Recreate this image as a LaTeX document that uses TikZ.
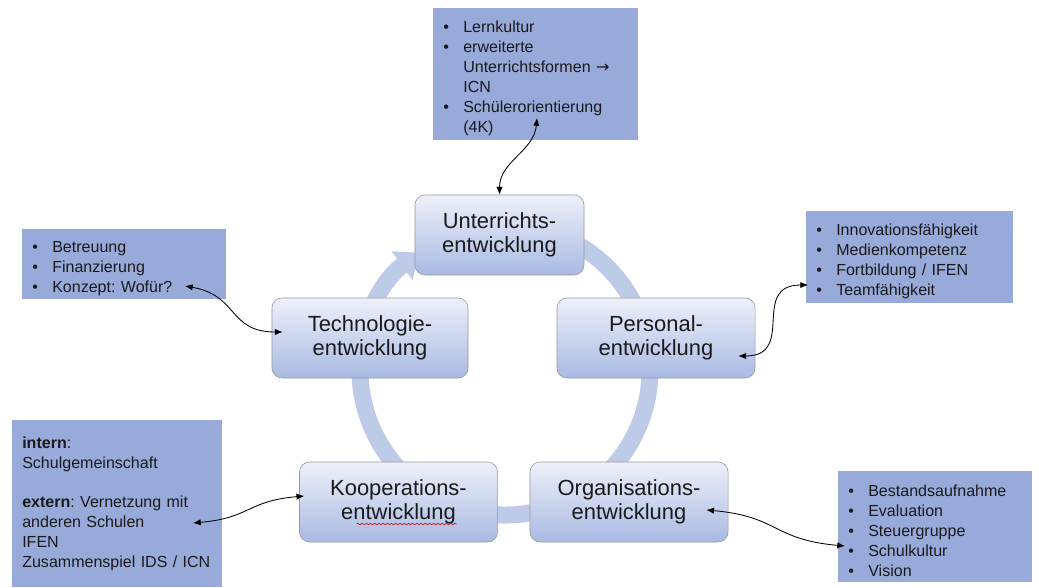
\documentclass[tikz,border=0pt]{standalone}
\usepackage{fontspec}
\setmainfont{Liberation Sans}
\newfontfamily\symfont{DejaVu Sans}
\usepackage{tikz}
\usetikzlibrary{arrows.meta}
\usetikzlibrary{calc}
\usetikzlibrary{decorations.pathmorphing}
\tikzset{>={Latex[length=5.5pt,width=4.5pt]}}
\usepackage{xcolor}
\definecolor{infofill}{RGB}{151,170,217}
\definecolor{ringcol}{RGB}{189,203,232}
\definecolor{boxtop}{RGB}{238,240,250}
\definecolor{boxbot}{RGB}{168,186,226}
\definecolor{boxline}{RGB}{150,152,160}
\definecolor{txt}{RGB}{26,26,26}
\tikzstyle{stage}=[rectangle,rounded corners=0.25cm,draw=boxline,top color=boxtop,bottom color=boxbot,
  minimum width=4.95cm,minimum height=2cm,align=center,text=txt,font=\fontsize{15.6}{17.1}\selectfont]
\tikzstyle{info}=[rectangle,fill=infofill,anchor=north west,inner xsep=0.25cm,inner ysep=0pt,
  align=left,text=txt,font=\fontsize{11.4}{14.2}\selectfont\frenchspacing]
\tikzstyle{link}=[<->,line width=0.6pt]
\newcommand{\bul}{\par\noindent\makebox[0.5cm][l]{\textbullet}}
\newcommand{\cont}{\par\noindent\hspace*{0.5cm}}

\begin{document}
\begin{tikzpicture}[x=0.025cm,y=0.025cm]
  \useasboundingbox (0,0) rectangle (1039,587);
  % ring
  \draw[ringcol,line width=0.425cm,-{Triangle[length=0.55cm,width=0.85cm]}]
    (505,217) ++(100:145) arc[start angle=100,end angle=-234,radius=145];

  % stages
  \node[stage,minimum width=4.225cm] (unt) at (499.5,352) {Unterrichts-\\entwicklung};
  \node[stage] (pers) at (656,249) {Personal-\\entwicklung};
  \node[stage,minimum width=4.9cm] (tech) at (370,249) {Technologie-\\entwicklung};
  \node[stage] (koop) at (398.5,85) {Kooperations-\\entwicklung};
  \node[stage] (org) at (629,85) {Organisations-\\entwicklung};
  \draw[red!80!black,decorate,decoration={snake,amplitude=0.6pt,segment length=3pt}]
    ($(koop.center)+(-42,-22)$) -- ($(koop.center)+(58,-22)$);

  % info boxes
  \node[info,text width=4.625cm,minimum height=3.3cm] (lern) at (433,579)
    {\bul Lernkultur
     \bul erweiterte
     \cont Unterrichtsformen {\symfont →}
     \cont ICN
     \bul Schülerorientierung
     \cont (4K)};
  \node[info,text width=4.675cm,minimum height=2.3cm] (persinfo) at (806,376)
    {\bul Innovationsfähigkeit
     \bul Medienkompetenz
     \bul Fortbildung / IFEN
     \bul Teamfähigkeit};
  \node[info,text width=4.6cm,minimum height=1.75cm] (techinfo) at (22,358)
    {\bul Betreuung
     \bul Finanzierung
     \bul Konzept: Wofür?};
  \node[info,text width=4.75cm,minimum height=4.175cm] (koopinfo) at (12,167)
    {\textbf{intern}:\\Schulgemeinschaft\\[14.2pt]
     \textbf{extern}: Vernetzung mit\\anderen Schulen\\IFEN\\Zusammenspiel IDS / ICN};
  \node[info,text width=4.35cm,minimum height=2.775cm] (orginfo) at (838,116)
    {\bul Bestandsaufnahme
     \bul Evaluation
     \bul Steuergruppe
     \bul Schulkultur
     \bul Vision};

  % links
  \coordinate (lernpt) at (537,469);
  \coordinate (techpt) at (185,301);
  \coordinate (kooppt) at (193,64);
  \coordinate (perspt) at (808,302);
  \coordinate (orgpt) at (845,41);
  \draw[link] (unt.north) to[out=90,in=-95] (lernpt);
  \draw[link] (techpt) to[out=-10,in=180,looseness=1.3] ($(tech.west)+(11,6)$);
  \draw[link] (kooppt) to[out=5,in=185,looseness=1.3] ($(koop.west)+(5,6)$);
  \draw[link] ($(pers.east)+(-17,-18)$) to[out=0,in=180,looseness=1.5] (perspt);
  \draw[link] ($(org.east)+(-22,-8)$) to[out=-5,in=175,looseness=1.3] (orgpt);
\end{tikzpicture}
\end{document}
